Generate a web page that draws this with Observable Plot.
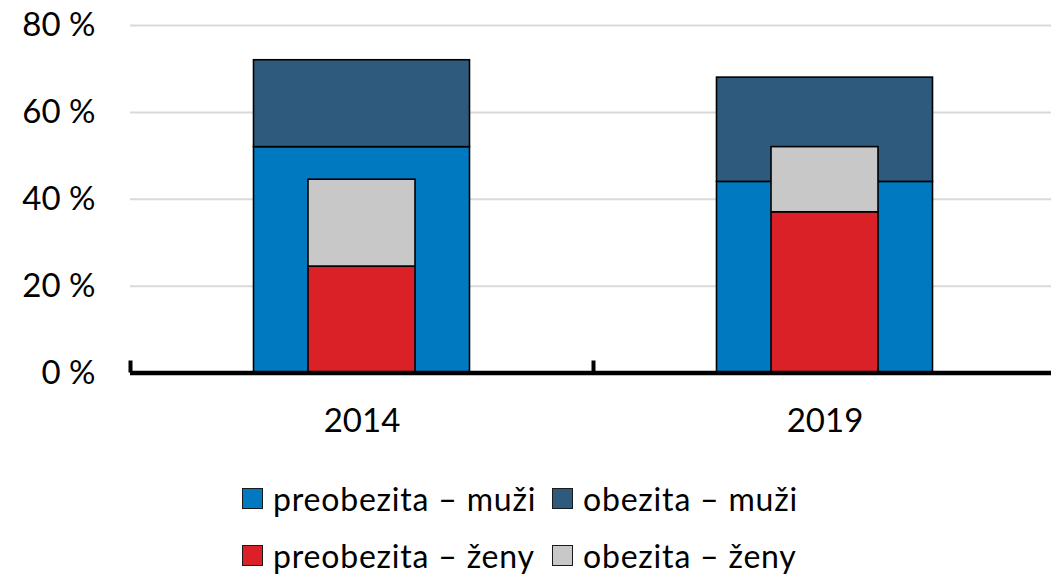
<!DOCTYPE html>
<html><head><meta charset="utf-8">
<script src="https://cdn.jsdelivr.net/npm/d3@7"></script>
<script src="https://cdn.jsdelivr.net/npm/@observablehq/plot@0.6"></script>
<style>
body{margin:0;background:#fff;font-family:Lato, "Open Sans", sans-serif;}
#legend{display:grid;grid-template-columns:310px auto;grid-auto-rows:57px;margin-left:242px;padding-top:20px;font-size:32px;line-height:1.1;letter-spacing:0.8px;color:#000;}
.item{display:flex;align-items:center;white-space:nowrap;}
.sw{width:21px;height:21px;box-sizing:border-box;border:1.5px solid #1a1a1a;margin-right:10px;flex:none;}
</style></head><body><div id="chart"></div><div id="legend"></div>
<script>
const years = ["2014", "2019"];
const seriesNames = ["preobezita – muži", "obezita – muži", "preobezita – ženy", "obezita – ženy"];
const colors = ["#0079c1", "#2e5a7d", "#da2128", "#c8c8c8"];
const preobezitaMuzi = [52, 44];
const obezitaMuzi = [20, 24];
const preobezitaZeny = [24.5, 37];
const obezitaZeny = [20, 15];
const yTicks = [0, 20, 40, 60, 80];

const men = years.flatMap((yr, i) => [
  {year: yr, series: seriesNames[0], value: preobezitaMuzi[i]},
  {year: yr, series: seriesNames[1], value: obezitaMuzi[i]}
]);
const women = years.flatMap((yr, i) => [
  {year: yr, series: seriesNames[2], value: preobezitaZeny[i]},
  {year: yr, series: seriesNames[3], value: obezitaZeny[i]}
]);

const step = (1056 - 130) / years.length;

const plot = Plot.plot({
  width: 1051, height: 450,
  marginTop: 25, marginBottom: 77.5, marginLeft: 130, marginRight: 0,
  style: {fontFamily: "Lato, 'Open Sans', sans-serif", fontSize: "33px", color: "#000", background: "#fff", overflow: "visible"},
  x: {domain: years, range: [130, 1056], padding: 0, label: null},
  y: {domain: [0, 80], label: null},
  color: {domain: seriesNames, range: colors},
  marks: [
    Plot.gridY(yTicks, {stroke: "#d9d9d9", strokeOpacity: 1, strokeWidth: 2}),
    Plot.barY(men, {x: "year", y: "value", fill: "series", stroke: "#000", strokeWidth: 1.6, insetLeft: 123.5, insetRight: 123.5}),
    Plot.barY(women, {x: "year", y: "value", fill: "series", stroke: "#000", strokeWidth: 1.6, insetLeft: 178, insetRight: 178}),
    Plot.ruleY([0], {stroke: "#000", strokeWidth: 4.5}),
    Plot.ruleX(years, {x: d => d, dx: -step / 2, y1: 0, y2: 0, insetBottom: 12, stroke: "#000", strokeWidth: 4}),
    Plot.axisY(yTicks, {tickSize: 0, tickPadding: 35, tickFormat: d => d + " %", fontSize: 33}),
    Plot.axisX({tickSize: 0, tickPadding: 36, fontSize: 33})
  ]
});
document.getElementById("chart").appendChild(plot);

const legend = document.getElementById("legend");
seriesNames.forEach((name, i) => {
  const item = document.createElement("div");
  item.className = "item";
  const sw = document.createElement("span");
  sw.className = "sw";
  sw.style.background = colors[i];
  const label = document.createElement("span");
  label.textContent = name;
  item.appendChild(sw);
  item.appendChild(label);
  legend.appendChild(item);
});
</script></body></html>
